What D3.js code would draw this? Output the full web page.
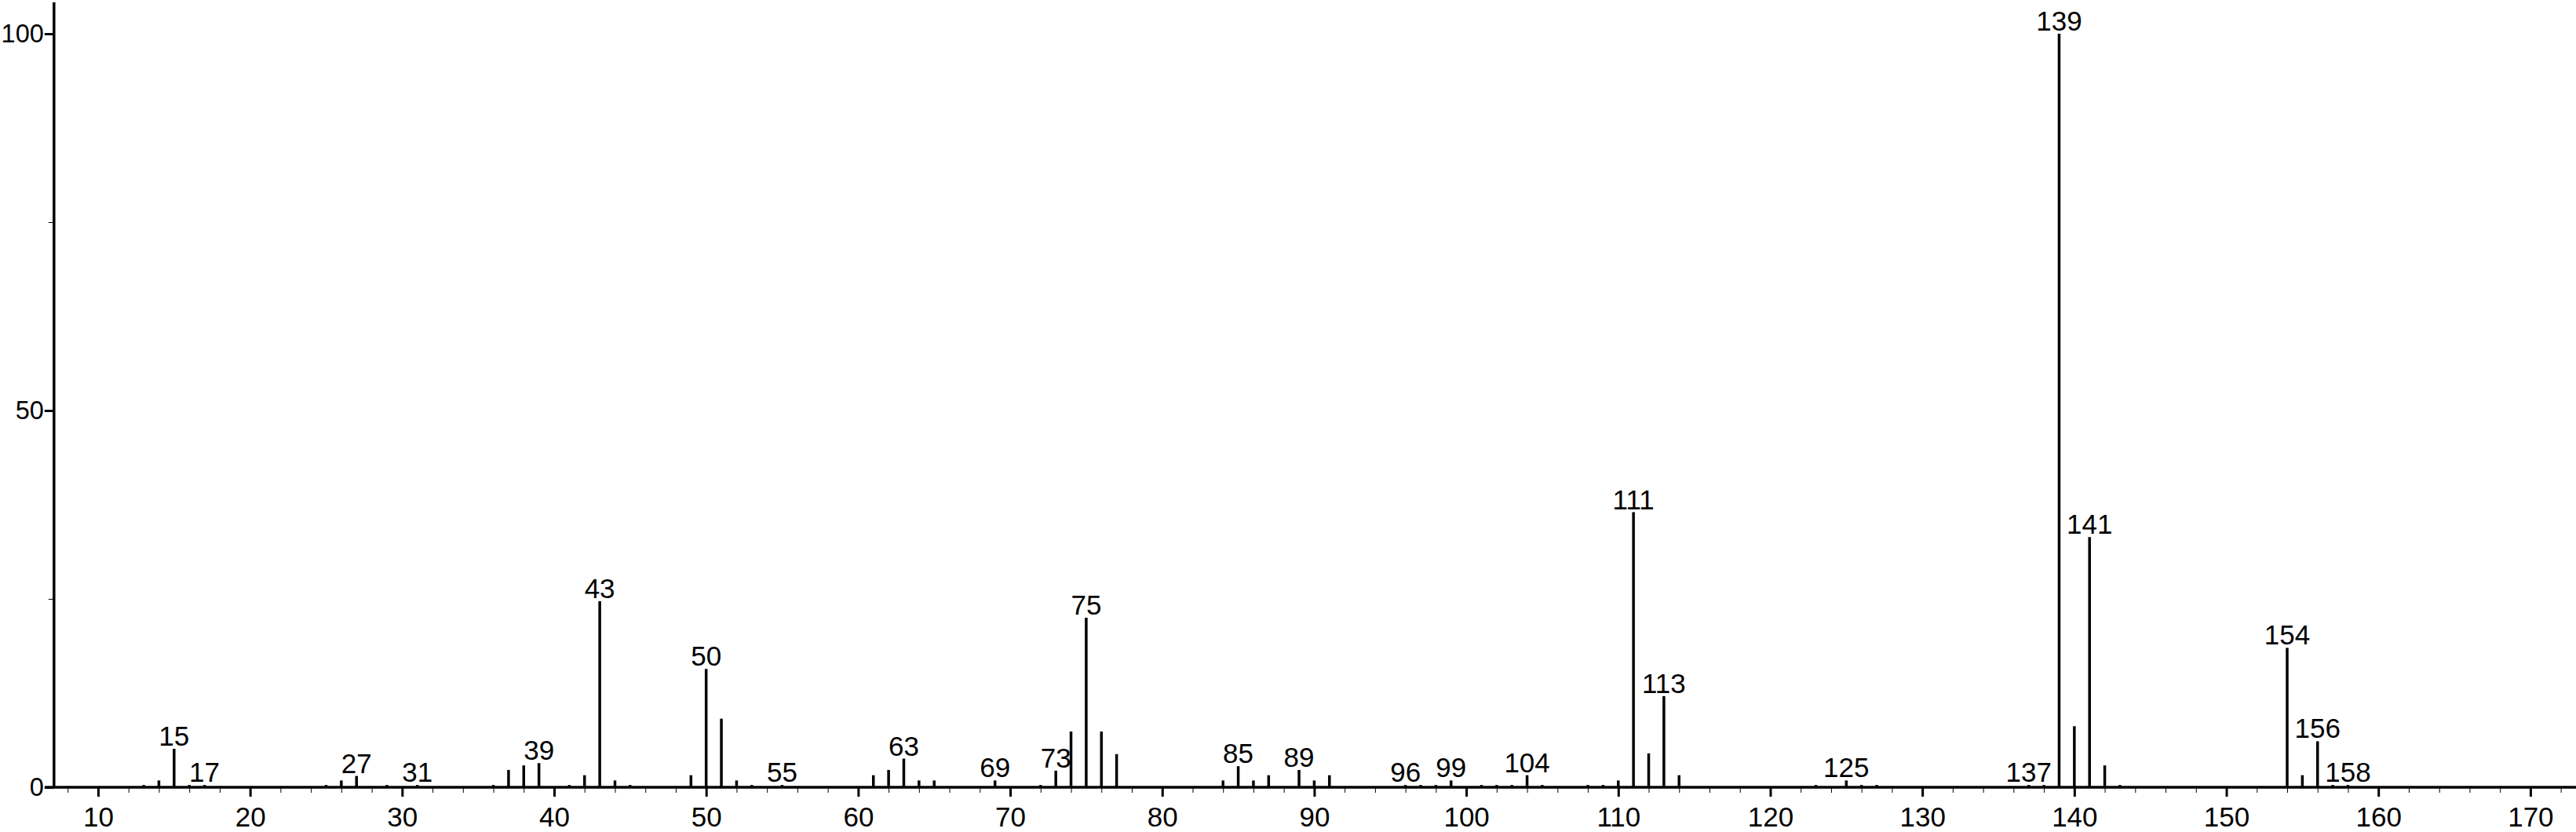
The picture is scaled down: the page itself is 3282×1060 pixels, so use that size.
<!DOCTYPE html>
<html>
<head>
<meta charset="utf-8">
<script src="https://cdn.jsdelivr.net/npm/d3@7"></script>
<style>
  body { margin: 0; background: #fff; }
  svg { display: block; font-family: "Liberation Sans", Arial, sans-serif; }
</style>
</head>
<body>
<svg></svg>
<script>
// m/z values and relative intensities
const mz = [13, 14, 15, 16, 17, 25, 26, 27, 29, 31, 36, 37, 38, 39, 41, 42, 43, 44, 45,
  49, 50, 51, 52, 53, 55, 61, 62, 63, 64, 65, 69, 72, 73, 74, 75, 76, 77,
  84, 85, 86, 87, 89, 90, 91, 96, 97, 98, 99, 101, 102, 103, 104, 105, 108, 109,
  110, 111, 112, 113, 114, 123, 125, 126, 127, 137, 138, 139, 140, 141, 142, 143,
  154, 155, 156, 157, 158];
const intensity = [0.3, 0.9, 5.1, 0.3, 0.3, 0.3, 0.9, 1.5, 0.3, 0.3, 0.3, 2.3, 2.9, 3.2, 0.3, 1.6, 24.7, 0.9, 0.3,
  1.6, 15.7, 9.1, 0.9, 0.3, 0.3, 1.6, 2.3, 3.8, 0.9, 0.9, 0.9, 0.3, 2.2, 7.4, 22.5, 7.4, 4.4,
  0.9, 2.8, 0.9, 1.6, 2.3, 0.9, 1.6, 0.3, 0.3, 0.3, 0.9, 0.3, 0.3, 0.3, 1.6, 0.3, 0.3, 0.3,
  0.9, 36.5, 4.5, 12.1, 1.6, 0.3, 0.9, 0.3, 0.3, 0.3, 0.3, 100, 8.1, 33.2, 2.9, 0.3,
  18.5, 1.6, 6.1, 0.3, 0.3];
const labelled = [15, 17, 27, 31, 39, 43, 50, 55, 63, 69, 73, 75, 85, 89, 96, 99, 104,
  111, 113, 125, 137, 139, 141, 154, 156, 158];

const xMajor = d3.range(10, 171, 10);
const xMinor = d3.range(8, 173, 2).filter(v => v % 10 !== 0);
const yMajor = [0, 50, 100];
const yMinor = [25, 75];

const width = 3282;
const height = 1060;

const svg = d3.select('svg')
  .attr('width', width)
  .attr('height', height);

const x = d3.scaleLinear().domain([7.1, 173]).range([68.8, 3282]);
const y = d3.scaleLinear().domain([0, 100]).range([1003, 43]);

const peaks = mz.map((m, i) => ({ mz: m, value: intensity[i] }));

// x axis: minor ticks first, then major with labels
svg.append('g')
  .attr('transform', `translate(0,${y(0)})`)
  .call(d3.axisBottom(x).tickValues(xMinor).tickSize(7).tickFormat(''))
  .call(g => g.select('.domain').remove());

const xAxis = svg.append('g')
  .attr('transform', `translate(0,${y(0)})`)
  .call(d3.axisBottom(x).tickValues(xMajor).tickSize(12).tickSizeOuter(0).tickPadding(13));
xAxis.select('.domain').attr('stroke-width', 3.5).attr('d', `M57,0H${width}`);
xAxis.selectAll('.tick line').attr('stroke-width', 3);
xAxis.selectAll('.tick text').attr('font-size', 35).attr('fill', '#000');

// y axis
svg.append('g')
  .attr('transform', `translate(${x(7.1)},0)`)
  .call(d3.axisLeft(y).tickValues(yMinor).tickSize(7).tickFormat(''))
  .call(g => g.select('.domain').remove());

const yAxis = svg.append('g')
  .attr('transform', `translate(${x(7.1)},0)`)
  .call(d3.axisLeft(y).tickValues(yMajor).tickSize(12).tickSizeOuter(0).tickPadding(1));
yAxis.select('.domain').attr('stroke-width', 3.5).attr('d', `M0,${y(0)}V3`);
yAxis.selectAll('.tick line').attr('stroke-width', 3);
yAxis.selectAll('.tick text').attr('font-size', 32.5).attr('fill', '#000');

svg.selectAll('.tick line').attr('stroke', '#000');
svg.selectAll('.domain').attr('stroke', '#000');

// peaks
svg.append('g')
  .selectAll('line')
  .data(peaks)
  .enter().append('line')
  .attr('x1', d => x(d.mz))
  .attr('x2', d => x(d.mz))
  .attr('y1', y(0))
  .attr('y2', d => y(d.value))
  .attr('stroke', '#000')
  .attr('stroke-width', 3.5);

// peak labels
svg.append('g')
  .selectAll('text')
  .data(peaks.filter(d => labelled.includes(d.mz)))
  .enter().append('text')
  .attr('x', d => x(d.mz))
  .attr('y', d => y(d.value) - 4)
  .attr('text-anchor', 'middle')
  .attr('font-size', 35)
  .attr('fill', '#000')
  .text(d => d.mz);
</script>
</body>
</html>
